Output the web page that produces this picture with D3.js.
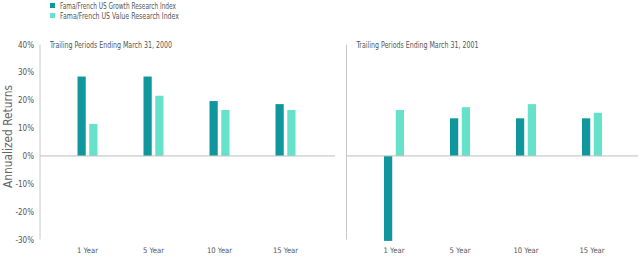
<!DOCTYPE html>
<html><head><meta charset="utf-8">
<script src="https://cdn.jsdelivr.net/npm/d3@7"></script>
<style>
body{margin:0;background:#fff;}
text{font-family:"Liberation Sans Narrow","DejaVu Sans Condensed","Roboto",sans-serif;}
</style></head>
<body><svg id="c" width="640" height="262"></svg>
<script>
const categories = ["1 Year","5 Year","10 Year","15 Year"];
const panelTitles = ["Trailing Periods Ending March 31, 2000","Trailing Periods Ending March 31, 2001"];
const seriesNames = ["Fama/French US Growth Research Index","Fama/French US Value Research Index"];
const growth2000 = [28.5, 28.5, 19.7, 18.6];
const value2000  = [11.5, 21.6, 16.5, 16.5];
const growth2001 = [-30.5, 13.5, 13.5, 13.5];
const value2001  = [16.5, 17.5, 18.6, 15.5];
const yTicks = [40,30,20,10,0,-10,-20,-30];
const colors = ["#0f979d","#66e2ca"];

const svg = d3.select("#c");
const y = d3.scaleLinear().domain([-30,40]).range([239.5,44.5]);

// legend
const legendW = [116,119];
seriesNames.forEach((n,i)=>{
  svg.append("rect").attr("x",50).attr("y",3+i*10).attr("width",5).attr("height",5).attr("fill",colors[i]);
  svg.append("text").attr("x",60).attr("y",8.5+i*10).attr("font-size",8.6).attr("fill","#555")
    .attr("textLength",legendW[i]).attr("lengthAdjust","spacingAndGlyphs").text(n);
});

// y axis title
svg.append("text").attr("transform","translate(11.5,136.5) rotate(-90)").attr("text-anchor","middle")
  .attr("font-size",11.5).attr("fill","#666").attr("font-family","Lato, sans-serif")
  .attr("textLength",103).attr("lengthAdjust","spacingAndGlyphs").text("Annualized Returns");

// y tick labels
svg.selectAll(".yt").data(yTicks).enter().append("text")
  .attr("x",34).attr("y",d=>y(d)+3).attr("text-anchor","end").attr("font-size",8).attr("fill","#555")
  .text(d=>d+"%");

const panels = [
  {x0:40, x1:335, r:[54.5,318.5], title:panelTitles[0], g:growth2000, v:value2000},
  {x0:346.5, x1:638, r:[361,625], title:panelTitles[1], g:growth2001, v:value2001}
];
panels.forEach(p=>{
  const gp = svg.append("g");
  const x = d3.scaleBand().domain(categories).range(p.r);
  const xs = d3.scaleBand().domain([0,1]).range([-10,10]).paddingInner(0.3);
  gp.append("line").attr("x1",p.x0).attr("x2",p.x0).attr("y1",y(40)).attr("y2",y(-30)).attr("stroke","#c8c8c8").attr("stroke-width",1);
  const data = categories.map((c,i)=>({c, vals:[p.g[i],p.v[i]]}));
  data.forEach(d=>{
    d.vals.forEach((v,k)=>{
      const cx = x(d.c)+x.bandwidth()/2;
      gp.append("rect").attr("x",cx+xs(k)).attr("width",xs.bandwidth())
        .attr("y",y(Math.max(0,v))).attr("height",Math.abs(y(v)-y(0))).attr("fill",colors[k]);
    });
    gp.append("text").attr("x",x(d.c)+x.bandwidth()/2).attr("y",253).attr("text-anchor","middle")
      .attr("font-size",7.6).attr("fill","#555").text(d.c);
  });
  gp.append("line").attr("x1",p.x0).attr("x2",p.x1).attr("y1",y(0)).attr("y2",y(0)).attr("stroke","#bdbdbd").attr("stroke-width",1);
  gp.append("text").attr("x",p.x0+10).attr("y",48).attr("font-size",8.6).attr("fill","#555")
    .attr("textLength",122).attr("lengthAdjust","spacingAndGlyphs").text(p.title);
});
</script></body></html>
